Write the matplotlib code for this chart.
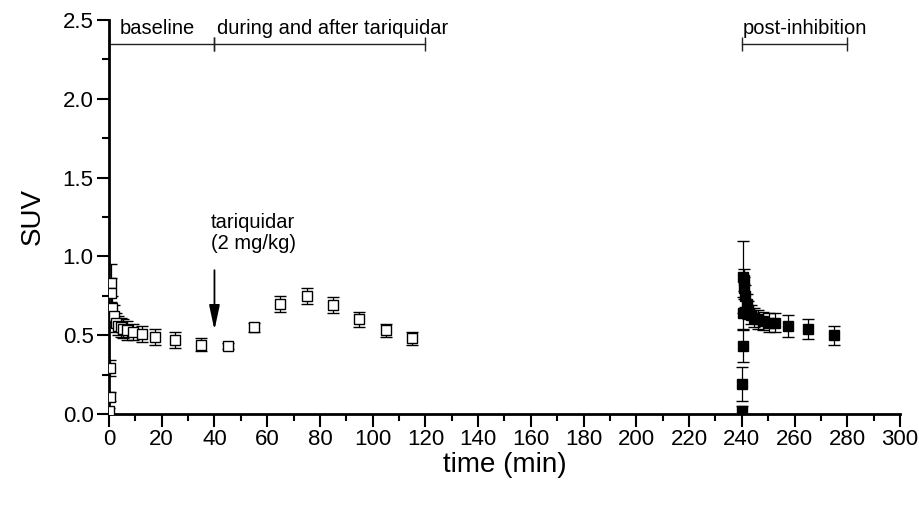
import matplotlib.pyplot as plt
from matplotlib.ticker import MultipleLocator

plt.rcParams['font.family'] = ['Liberation Sans', 'DejaVu Sans']

# baseline + during/after tariquidar (open squares)
t_open = [0.1, 0.3, 0.5, 0.7, 0.9, 1.25, 1.75, 2.5, 3.5, 4.5, 5.5, 7, 9, 12.5, 17.5, 25, 35,
          45, 55, 65, 75, 85, 95, 105, 115]
suv_open = [0.02, 0.11, 0.29, 0.83, 0.77, 0.67, 0.62, 0.58, 0.56, 0.55, 0.54, 0.53, 0.52, 0.51, 0.49, 0.47, 0.44,
            0.43, 0.55, 0.70, 0.75, 0.69, 0.60, 0.53, 0.48]
err_open = [0.02, 0.03, 0.05, 0.12, 0.09, 0.08, 0.07, 0.06, 0.06, 0.06, 0.06, 0.06, 0.05, 0.05, 0.05, 0.05, 0.04,
            0.02, 0.03, 0.05, 0.05, 0.05, 0.05, 0.04, 0.04]

# post-inhibition (filled squares)
t_fill = [240.1, 240.2, 240.4, 240.5, 240.6, 240.8, 241.0, 241.3, 241.8, 242.5, 243.5, 244.5, 246, 248, 250.5, 252.5,
          257.5, 265, 275]
suv_fill = [0.02, 0.19, 0.43, 0.64, 0.87, 0.85, 0.80, 0.75, 0.70, 0.66, 0.63, 0.61, 0.60, 0.59, 0.58, 0.58,
            0.56, 0.54, 0.50]
err_fill = [0.03, 0.11, 0.10, 0.10, 0.23, 0.07, 0.07, 0.07, 0.06, 0.06, 0.06, 0.06, 0.06, 0.06, 0.06, 0.06,
            0.07, 0.065, 0.06]

fig = plt.figure(figsize=(9.19, 5.05), dpi=100)
ax = fig.add_axes([0.1186, 0.1802, 0.8607, 0.7802])

ax.errorbar(t_open, suv_open, yerr=err_open, fmt='s', ms=7.5, mfc='white', mec='black', mew=1.0,
            ecolor='black', elinewidth=0.9, capsize=4.5, capthick=0.9, zorder=3)
ax.errorbar(t_fill, suv_fill, yerr=err_fill, fmt='s', ms=7.5, mfc='black', mec='black', mew=1.0,
            ecolor='black', elinewidth=0.9, capsize=4.5, capthick=0.9, zorder=3)

# period brackets
brk_y = 2.345
for x0, x1 in [(0, 40), (40, 120), (240, 280)]:
    ax.plot([x0, x1], [brk_y, brk_y], color='#222222', lw=1, clip_on=False)
    ax.plot([x0, x1], [brk_y, brk_y], ls='none', marker='|', ms=10, mew=1, color='#222222', clip_on=False)
ax.text(4, 2.385, 'baseline', fontsize=14.5, va='bottom', ha='left')
ax.text(41, 2.385, 'during and after tariquidar', fontsize=14.5, va='bottom', ha='left')
ax.text(240.5, 2.385, 'post-inhibition', fontsize=14.5, va='bottom', ha='left')

# tariquidar injection
ax.annotate('', xy=(40, 0.515), xytext=(40, 0.93),
            arrowprops=dict(arrowstyle='-|>,head_length=0.75,head_width=0.16', color='black',
                            lw=1.3, mutation_scale=20))
ax.text(38.5, 1.275, 'tariquidar\n(2 mg/kg)', fontsize=14.5, va='top', ha='left', linespacing=1.1)

ax.set_xlim(0, 300)
ax.set_ylim(0, 2.5)
ax.xaxis.set_major_locator(MultipleLocator(20))
ax.xaxis.set_minor_locator(MultipleLocator(10))
ax.yaxis.set_major_locator(MultipleLocator(0.5))
ax.yaxis.set_minor_locator(MultipleLocator(0.25))
ax.yaxis.set_major_formatter(plt.FormatStrFormatter('%.1f'))
ax.tick_params(which='major', direction='out', length=9, width=1.5, labelsize=16, pad=2)
ax.tick_params(which='minor', direction='out', length=5, width=1.5)
for s in ['top', 'right']:
    ax.spines[s].set_visible(False)
for s in ['left', 'bottom']:
    ax.spines[s].set_linewidth(2)

ax.set_xlabel('time (min)', fontsize=20, labelpad=1)
ax.set_ylabel('SUV', fontsize=20, labelpad=12)

fig.savefig('out.png', dpi=100)
